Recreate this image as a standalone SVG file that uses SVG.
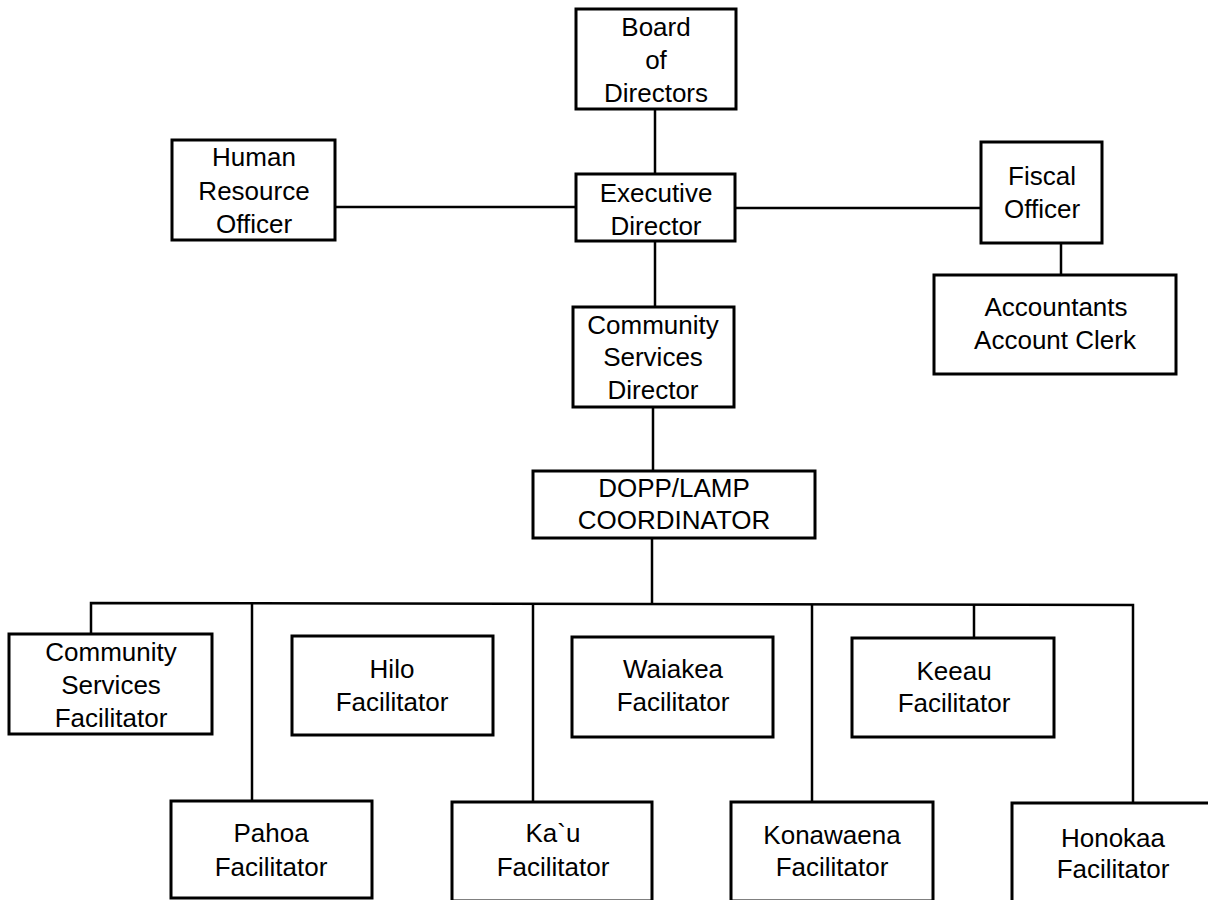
<svg xmlns="http://www.w3.org/2000/svg" width="1208" height="900" viewBox="0 0 1208 900">
<style>
.box{fill:#fff;stroke:#000;stroke-width:3}
.ln{stroke:#000;stroke-width:2.5;fill:none}
text{font-family:"Liberation Sans",Arial,sans-serif;font-size:26px;text-anchor:middle;fill:#000}
</style>
<rect width="1208" height="900" fill="#fff"/>
<g id="connectors">
<line class="ln" x1="655" y1="109" x2="655" y2="174"/>
<line class="ln" x1="335" y1="207" x2="577" y2="207"/>
<line class="ln" x1="736" y1="208" x2="981" y2="208"/>
<line class="ln" x1="1061" y1="243" x2="1061" y2="275"/>
<line class="ln" x1="655" y1="241" x2="655" y2="307"/>
<line class="ln" x1="653" y1="407" x2="653" y2="471"/>
<line class="ln" x1="652" y1="538" x2="652" y2="604"/>
<polyline class="ln" points="91,634 91,603 1133,605 1133,803"/>
<line class="ln" x1="252" y1="603" x2="252" y2="801"/>
<line class="ln" x1="533" y1="604" x2="533" y2="802"/>
<line class="ln" x1="812" y1="604" x2="812" y2="802"/>
<line class="ln" x1="974" y1="605" x2="974" y2="638"/>
</g>
<g id="board"><rect class="box" x="576" y="9" width="160" height="100"/>
<text x="656" y="36">Board</text><text x="656" y="69">of</text><text x="656" y="102">Directors</text></g>
<g id="hr"><rect class="box" x="172" y="140" width="163" height="100"/>
<text x="254" y="166">Human</text><text x="254" y="200">Resource</text><text x="254" y="233">Officer</text></g>
<g id="exec"><rect class="box" x="576" y="174" width="159" height="67"/>
<text x="656" y="202">Executive</text><text x="656" y="235">Director</text></g>
<g id="fiscal"><rect class="box" x="981" y="142" width="121" height="101"/>
<text x="1042" y="185">Fiscal</text><text x="1042" y="218">Officer</text></g>
<g id="accountants"><rect class="box" x="934" y="275" width="242" height="99"/>
<text x="1056" y="316">Accountants</text><text x="1055" y="349">Account Clerk</text></g>
<g id="csd"><rect class="box" x="573" y="307" width="161" height="100"/>
<text x="653" y="334">Community</text><text x="653" y="366">Services</text><text x="653" y="399">Director</text></g>
<g id="dopp"><rect class="box" x="533" y="471" width="282" height="67"/>
<text x="674" y="497">DOPP/LAMP</text><text x="674" y="529">COORDINATOR</text></g>
<g id="csf"><rect class="box" x="9" y="634" width="203" height="100"/>
<text x="111" y="661">Community</text><text x="111" y="694">Services</text><text x="111" y="727">Facilitator</text></g>
<g id="hilo"><rect class="box" x="292" y="636" width="201" height="99"/>
<text x="392" y="678">Hilo</text><text x="392" y="711">Facilitator</text></g>
<g id="waiakea"><rect class="box" x="572" y="637" width="201" height="100"/>
<text x="673" y="678">Waiakea</text><text x="673" y="711">Facilitator</text></g>
<g id="keeau"><rect class="box" x="852" y="638" width="202" height="99"/>
<text x="954" y="680">Keeau</text><text x="954" y="712">Facilitator</text></g>
<g id="pahoa"><rect class="box" x="171" y="801" width="201" height="97"/>
<text x="271" y="842">Pahoa</text><text x="271" y="876">Facilitator</text></g>
<g id="kau"><rect class="box" x="452" y="802" width="200" height="99"/>
<text x="553" y="842">Ka`u</text><text x="553" y="876">Facilitator</text></g>
<g id="konawaena"><rect class="box" x="731" y="802" width="202" height="99"/>
<text x="832" y="844">Konawaena</text><text x="832" y="876">Facilitator</text></g>
<g id="honokaa"><rect class="box" x="1012" y="803" width="210" height="99"/>
<text x="1113" y="847">Honokaa</text><text x="1113" y="878">Facilitator</text></g>
</svg>
